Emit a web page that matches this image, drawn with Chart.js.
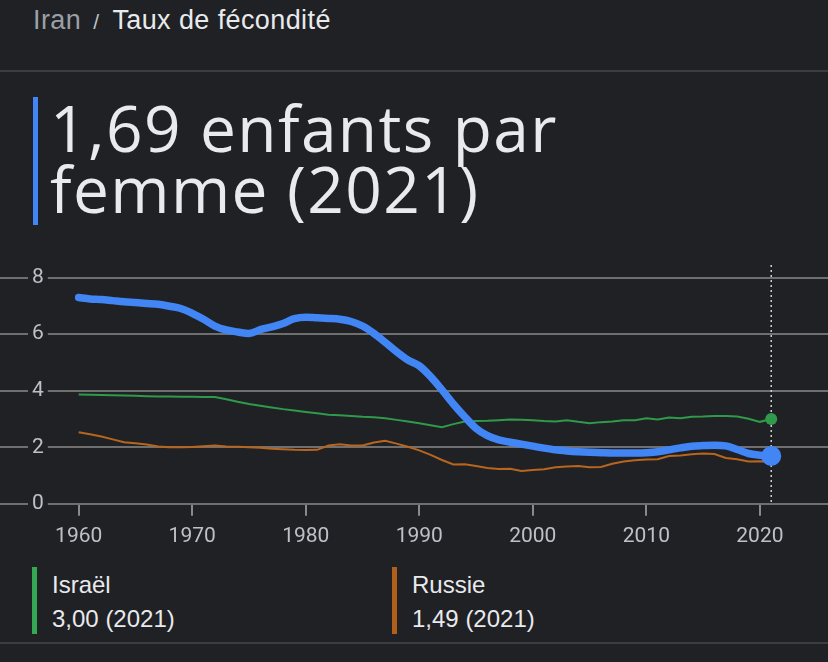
<!DOCTYPE html>
<html lang="fr">
<head>
<meta charset="utf-8">
<title>Iran - Taux de fécondité</title>
<script src="https://cdn.jsdelivr.net/npm/chart.js@4.4.1/dist/chart.umd.min.js"></script>
<style>
  html, body { margin: 0; padding: 0; }
  body { width: 828px; height: 662px; background: #202124; overflow: hidden; position: relative; font-family: "Liberation Sans", Arial, sans-serif; }
  .crumb { position: absolute; left: 33px; top: 5px; font-size: 27px; letter-spacing: 0.4px; color: #e8eaed; white-space: nowrap; }
  .crumb .root { color: #9aa0a6; }
  .crumb .sep { color: #bdc1c6; margin: 0 13px 0 12px; font-size: 21px; }
  .rule { position: absolute; left: 0; width: 828px; height: 2px; background: #3c3d40; }
  .title-bar { position: absolute; left: 33px; top: 97px; width: 5px; height: 128px; background: #4285f4; }
  .title { position: absolute; left: 50px; top: 97px; font-family: "Open Sans", sans-serif; font-size: 64px; line-height: 61px; color: #e8eaed; letter-spacing: 1.4px; white-space: nowrap; }
  .chart-box { position: absolute; left: 0; top: 265px; width: 828px; height: 292px; }
  .legend { position: absolute; top: 567px; height: 67px; }
  .legend .bar { position: absolute; left: 0; top: 0; width: 5px; height: 67px; }
  .legend .name { position: absolute; left: 20px; top: 4px; font-size: 24px; color: #e8eaed; white-space: nowrap; }
  .legend .val { position: absolute; left: 20px; top: 38px; font-size: 24px; color: #e8eaed; white-space: nowrap; }
</style>
</head>
<body>
<div class="crumb"><span class="root">Iran</span><span class="sep">/</span>Taux de fécondité</div>
<div class="rule" style="top:70px"></div>
<div class="title-bar"></div>
<div class="title">1,69 enfants par<br>femme (2021)</div>
<div class="chart-box"><canvas id="fert-chart"></canvas></div>
<div class="legend" style="left:32px"><div class="bar" style="background:#34a853"></div><div class="name">Israël</div><div class="val">3,00 (2021)</div></div>
<div class="legend" style="left:392px"><div class="bar" style="background:#b0601a"></div><div class="name">Russie</div><div class="val">1,49 (2021)</div></div>
<div class="rule" style="top:642px"></div>

<script>
var years = [1960, 1961, 1962, 1963, 1964, 1965, 1966, 1967, 1968, 1969,
    1970, 1971, 1972, 1973, 1974, 1975, 1976, 1977, 1978, 1979,
    1980, 1981, 1982, 1983, 1984, 1985, 1986, 1987, 1988, 1989,
    1990, 1991, 1992, 1993, 1994, 1995, 1996, 1997, 1998, 1999,
    2000, 2001, 2002, 2003, 2004, 2005, 2006, 2007, 2008, 2009,
    2010, 2011, 2012, 2013, 2014, 2015, 2016, 2017, 2018, 2019,
    2020, 2021];

var iran = [7.30, 7.25, 7.23, 7.19, 7.15, 7.12, 7.09, 7.06, 6.99, 6.91,
    6.74, 6.53, 6.29, 6.15, 6.08, 6.03, 6.16, 6.26, 6.38, 6.55,
    6.60, 6.58, 6.56, 6.53, 6.45, 6.29, 6.03, 5.71, 5.38, 5.09,
    4.88, 4.50, 4.03, 3.53, 3.08, 2.67, 2.41, 2.26, 2.18, 2.11,
    2.04, 1.97, 1.91, 1.87, 1.84, 1.82, 1.81, 1.80, 1.80, 1.80,
    1.81, 1.84, 1.91, 1.98, 2.04, 2.06, 2.07, 2.05, 1.92, 1.78,
    1.72, 1.69];

var israel = [3.87, 3.86, 3.85, 3.84, 3.83, 3.82, 3.81, 3.80, 3.80, 3.79,
    3.79, 3.78, 3.78, 3.70, 3.61, 3.53, 3.47, 3.41, 3.35, 3.30,
    3.25, 3.20, 3.15, 3.13, 3.11, 3.08, 3.06, 3.03, 2.97, 2.91,
    2.85, 2.78, 2.71, 2.82, 2.91, 2.93, 2.94, 2.96, 2.98, 2.97,
    2.96, 2.93, 2.91, 2.96, 2.90, 2.85, 2.89, 2.91, 2.96, 2.96,
    3.03, 2.98, 3.05, 3.03, 3.08, 3.09, 3.11, 3.11, 3.09, 3.01,
    2.90, 3.00];

var russia = [2.53, 2.46, 2.38, 2.28, 2.18, 2.14, 2.10, 2.03, 2.00, 2.00,
    2.01, 2.04, 2.06, 2.03, 2.02, 2.00, 1.98, 1.95, 1.93, 1.91,
    1.90, 1.91, 2.06, 2.11, 2.06, 2.06, 2.17, 2.23, 2.13, 2.02,
    1.89, 1.73, 1.55, 1.39, 1.40, 1.34, 1.27, 1.23, 1.24, 1.16,
    1.20, 1.22, 1.29, 1.32, 1.34, 1.29, 1.30, 1.42, 1.50, 1.54,
    1.57, 1.58, 1.69, 1.71, 1.75, 1.78, 1.76, 1.62, 1.58, 1.50,
    1.51, 1.49];

var yTicks = [0, 2, 4, 6, 8];
var xTicks = [1960, 1970, 1980, 1990, 2000, 2010, 2020];
var markerYear = 2021;

function toPoints(values) {
    return years.map(function (y, i) { return { x: y, y: values[i] }; });
}

// only the last point gets a dot
function lastDot(r) {
    return years.map(function (y, i) { return i === years.length - 1 ? r : 0; });
}

var markerLine = {
    id: 'markerLine',
    beforeDatasetsDraw: function (chart) {
        var ctx = chart.ctx;
        var x = chart.scales.x.getPixelForValue(markerYear);
        var area = chart.chartArea;
        ctx.save();
        ctx.strokeStyle = '#d0d0d0';
        ctx.lineWidth = 1.5;
        ctx.setLineDash([2, 3]);
        ctx.beginPath();
        ctx.moveTo(x, area.top);
        ctx.lineTo(x, area.bottom);
        ctx.stroke();
        ctx.restore();
    }
};

var handleChart = function () {
    var ctx = document.getElementById('fert-chart').getContext('2d');
    window.fertChart = new Chart(ctx, {
        type: 'line',
        data: {
            datasets: [{
                label: 'Iran',
                data: toPoints(iran),
                borderColor: '#4285f4',
                backgroundColor: '#4285f4',
                borderWidth: 7.5,
                tension: 0.4,
                cubicInterpolationMode: 'monotone',
                pointRadius: lastDot(10),
                pointBorderWidth: 0,
                borderCapStyle: 'round',
                borderJoinStyle: 'round'
            }, {
                label: 'Israël',
                data: toPoints(israel),
                borderColor: '#2f9a4b',
                backgroundColor: '#2f9a4b',
                borderWidth: 2,
                tension: 0,
                pointRadius: lastDot(6),
                pointBorderWidth: 0
            }, {
                label: 'Russie',
                data: toPoints(russia),
                borderColor: '#b8651f',
                backgroundColor: '#b8651f',
                borderWidth: 2,
                tension: 0,
                pointRadius: 0
            }]
        },
        options: {
            responsive: true,
            maintainAspectRatio: false,
            animation: false,
            layout: { padding: 0, autoPadding: false },
            plugins: {
                legend: { display: false },
                tooltip: { enabled: false }
            },
            scales: {
                x: {
                    type: 'linear',
                    min: 1953.07,
                    max: 2026.0,
                    border: { display: false },
                    grid: {
                        drawOnChartArea: false,
                        drawTicks: true,
                        tickLength: 12,
                        tickColor: '#8a8a8a',
                        lineWidth: 2
                    },
                    afterBuildTicks: function (axis) {
                        axis.ticks = xTicks.map(function (v) { return { value: v }; });
                    },
                    ticks: {
                        color: '#bdc1c6',
                        font: { family: 'Roboto', size: 21 },
                        padding: 8,
                        maxRotation: 0,
                        callback: function (v) { return String(v); }
                    }
                },
                y: {
                    min: 0,
                    max: 8.45,
                    border: { display: false },
                    grid: {
                        color: '#6f6f6f',
                        lineWidth: 2,
                        drawTicks: false
                    },
                    afterBuildTicks: function (axis) {
                        axis.ticks = yTicks.map(function (v) { return { value: v }; });
                    },
                    // labels sit on top of full-width grid lines, so the axis takes no room
                    afterFit: function (axis) {
                        axis.width = 0;
                        axis.paddingTop = 0;
                        axis.paddingBottom = 0;
                    },
                    ticks: {
                        mirror: true,
                        padding: 32,
                        color: '#bdc1c6',
                        font: { family: 'Roboto', size: 21 },
                        showLabelBackdrop: true,
                        backdropColor: '#202124',
                        backdropPadding: { left: 4, right: 4, top: 0, bottom: 0 }
                    }
                }
            }
        },
        plugins: [markerLine]
    });
};

handleChart();
</script>
</body>
</html>
